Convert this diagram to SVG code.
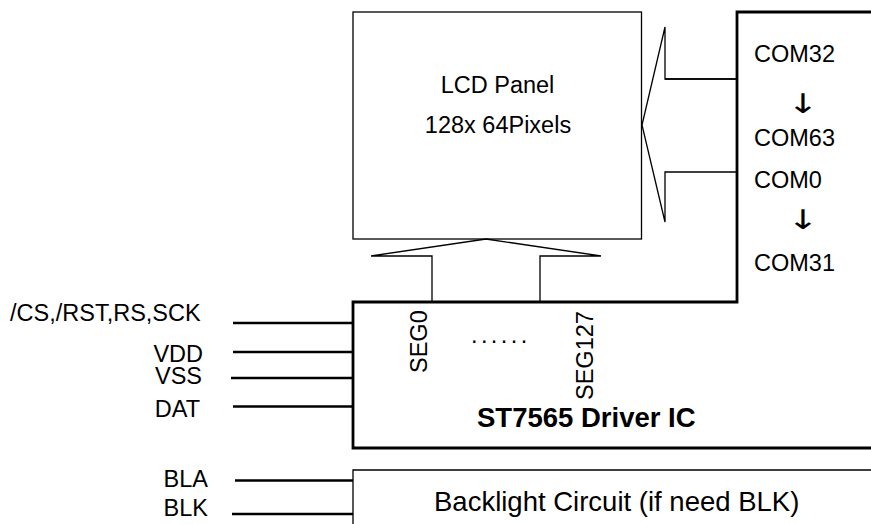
<svg xmlns="http://www.w3.org/2000/svg" width="871" height="524" viewBox="0 0 871 524">
<style>
text{font-family:"Liberation Sans",Arial,sans-serif;font-size:23.5px;fill:#000}
.big{font-size:27.5px}
.bold{font-weight:bold}
.arr{font-family:"DejaVu Sans",sans-serif;font-size:27px}
.thin{fill:none;stroke:#000;stroke-width:1.3}
.thick{fill:none;stroke:#000;stroke-width:2.8}
.pin{fill:none;stroke:#000;stroke-width:2.5}
</style>
<rect width="871" height="524" fill="#fff"/>
<g id="lcd-panel">
<rect x="353" y="12" width="288.5" height="227" class="thin" stroke-width="1.5"/>
<text x="497.5" y="93" text-anchor="middle">LCD Panel</text>
<text x="498" y="133" text-anchor="middle">128x 64Pixels</text>
</g>
<g id="driver-ic">
<path d="M871,12 H737 V302 H353 V448 H871" class="thick"/>
<text class="big bold" x="477" y="427">ST7565 Driver IC</text>
<text transform="translate(426.5,373) rotate(-90)">SEG0</text>
<text transform="translate(593,400) rotate(-90)">SEG127</text>
<text x="471" y="343" letter-spacing="3.4">......</text>
<text x="754" y="62">COM32</text>
<text class="arr" transform="translate(803,113) scale(1.4,1)" text-anchor="middle">↓</text>
<text x="754" y="146">COM63</text>
<text x="754" y="188">COM0</text>
<text class="arr" transform="translate(803,229) scale(1.4,1)" text-anchor="middle">↓</text>
<text x="754" y="271">COM31</text>
</g>
<g id="backlight">
<path d="M871,470 H353 V524" class="thin" stroke-width="1.2"/>
<text class="big" x="434" y="511">Backlight Circuit (if need BLK)</text>
</g>
<g id="labels">
<text x="10" y="321">/CS,/RST,RS,SCK</text>
<text x="203" y="362" text-anchor="end">VDD</text>
<text x="202" y="384" text-anchor="end">VSS</text>
<text x="200" y="417" text-anchor="end">DAT</text>
<text x="208" y="487" text-anchor="end">BLA</text>
<text x="208" y="516" text-anchor="end">BLK</text>
</g>
<g id="connectors">
<polyline points="737,79 665,79 665,27 642,125 665,222 665,172 737,172" class="thin"/>
<path d="M665,79 H737" class="thin" stroke-width="2"/>
<polyline points="432,302 432,256 371,256 486,239 601,256 540,256 540,302" class="thin"/>
<path d="M233,323 H353 M233,352 H353 M231,378 H353 M233,406.5 H353" class="pin"/>
<path d="M235,480.5 H353 M232,514 H353" class="pin"/>
</g>
</svg>
